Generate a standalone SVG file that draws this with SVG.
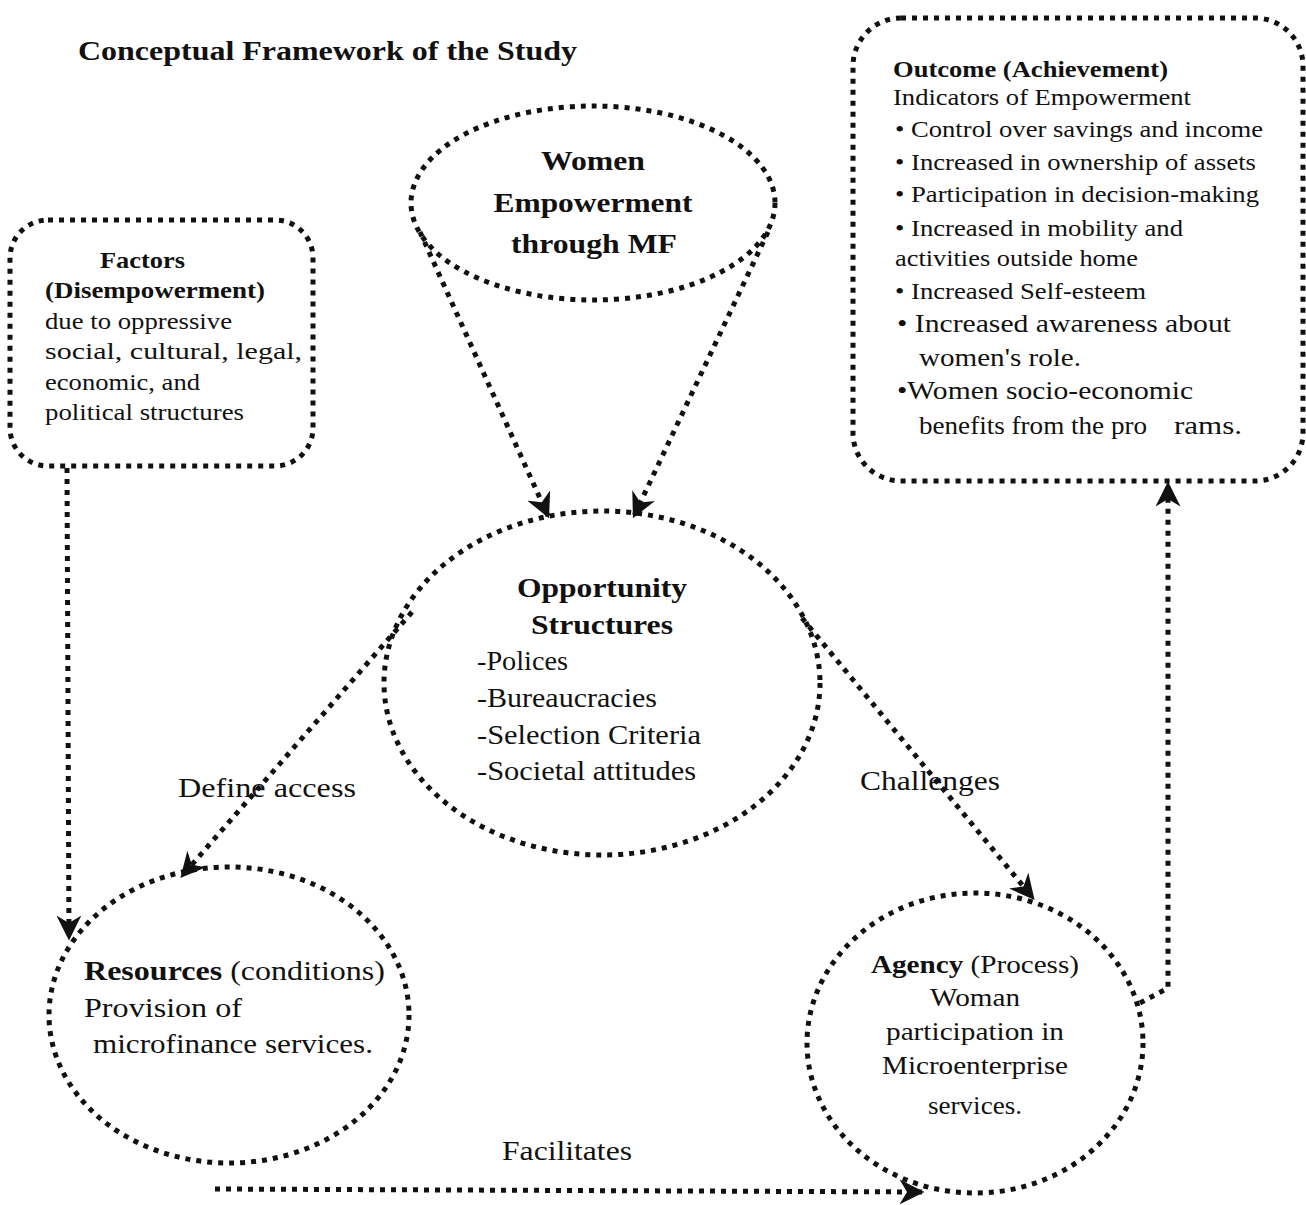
<svg xmlns="http://www.w3.org/2000/svg" width="1306" height="1205" viewBox="0 0 1306 1205">
<style>
text{font-family:"Liberation Serif","Times New Roman",serif;fill:#111}
.b{font-weight:bold}
.sh{fill:none;stroke:#111;stroke-width:5;stroke-dasharray:5 6}
.ln{fill:none;stroke:#111;stroke-width:5;stroke-dasharray:5 6}
.f28{font-size:28px}
.f24{font-size:24px}
.f23{font-size:23px}
.f26{font-size:26px}
.m{text-anchor:middle}
</style>
<defs>
<marker id="ah" viewBox="0 0 10 10" refX="9" refY="5" markerWidth="5" markerHeight="5" orient="auto" markerUnits="strokeWidth">
<path d="M0,0 L10,5 L0,10 L3,5 z" fill="#111"/>
</marker>
</defs>
<rect width="1306" height="1205" fill="#fff"/>
<text class="b f28" x="78" y="60" textLength="499" lengthAdjust="spacingAndGlyphs">Conceptual Framework of the Study</text>

<g id="women">
<ellipse class="sh" cx="593" cy="203" rx="182" ry="97" stroke-dasharray="6 4" stroke-width="4"/>
<text class="b f28 m" x="593" y="170" textLength="104" lengthAdjust="spacingAndGlyphs">Women</text>
<text class="b f28 m" x="593" y="212" textLength="199" lengthAdjust="spacingAndGlyphs">Empowerment</text>
<text class="b f28 m" x="594" y="253" textLength="166" lengthAdjust="spacingAndGlyphs">through MF</text>
</g>

<g id="factors">
<rect class="sh" x="10" y="220" width="303" height="246" rx="38"/>
<text class="b f24" x="100" y="268" textLength="85" lengthAdjust="spacingAndGlyphs">Factors</text>
<text class="b f24" x="45" y="298" textLength="220" lengthAdjust="spacingAndGlyphs">(Disempowerment)</text>
<text class="f24" x="45" y="329" textLength="187" lengthAdjust="spacingAndGlyphs">due to oppressive</text>
<text class="f24" x="45" y="359" textLength="257" lengthAdjust="spacingAndGlyphs">social, cultural, legal,</text>
<text class="f24" x="45" y="390" textLength="155" lengthAdjust="spacingAndGlyphs">economic, and</text>
<text class="f24" x="45" y="420" textLength="199" lengthAdjust="spacingAndGlyphs">political structures</text>
</g>

<g id="outcome">
<rect class="sh" x="853" y="18" width="450" height="463" rx="48"/>
<text class="b f23" x="893" y="77" textLength="275" lengthAdjust="spacingAndGlyphs">Outcome (Achievement)</text>
<text class="f23" x="893" y="105" textLength="298" lengthAdjust="spacingAndGlyphs">Indicators of Empowerment</text>
<text class="f23" x="895" y="137" textLength="368" lengthAdjust="spacingAndGlyphs">• Control over savings and income</text>
<text class="f23" x="895" y="170" textLength="361" lengthAdjust="spacingAndGlyphs">• Increased in ownership of assets</text>
<text class="f23" x="895" y="202" textLength="364" lengthAdjust="spacingAndGlyphs">• Participation in decision-making</text>
<text class="f23" x="895" y="236" textLength="288" lengthAdjust="spacingAndGlyphs">• Increased in mobility and</text>
<text class="f23" x="895" y="266" textLength="243" lengthAdjust="spacingAndGlyphs">activities outside home</text>
<text class="f23" x="895" y="299" textLength="251" lengthAdjust="spacingAndGlyphs">• Increased Self-esteem</text>
<text class="f26" x="897" y="332" textLength="334" lengthAdjust="spacingAndGlyphs">•  Increased awareness about</text>
<text class="f26" x="919" y="366" textLength="162" lengthAdjust="spacingAndGlyphs">women's role.</text>
<text class="f26" x="897" y="399" textLength="296" lengthAdjust="spacingAndGlyphs">•Women socio-economic</text>
<text class="f26" x="919" y="434" textLength="228" lengthAdjust="spacingAndGlyphs">benefits from the pro</text>
<text class="f26" x="1174" y="434" textLength="68" lengthAdjust="spacingAndGlyphs">rams.</text>
</g>

<g id="opportunity">
<ellipse class="sh" cx="602" cy="683" rx="218" ry="172"/>
<text class="b f28 m" x="602" y="597" textLength="170" lengthAdjust="spacingAndGlyphs">Opportunity</text>
<text class="b f28 m" x="602" y="634" textLength="142" lengthAdjust="spacingAndGlyphs">Structures</text>
<text class="f28" x="477" y="670" textLength="91" lengthAdjust="spacingAndGlyphs">-Polices</text>
<text class="f28" x="477" y="707" textLength="180" lengthAdjust="spacingAndGlyphs">-Bureaucracies</text>
<text class="f28" x="477" y="744" textLength="224" lengthAdjust="spacingAndGlyphs">-Selection Criteria</text>
<text class="f28" x="477" y="780" textLength="219" lengthAdjust="spacingAndGlyphs">-Societal attitudes</text>
</g>

<g id="resources">
<ellipse class="sh" cx="229" cy="1015" rx="180" ry="148"/>
<text class="f28" x="84" y="980" textLength="301" lengthAdjust="spacingAndGlyphs"><tspan class="b">Resources</tspan> (conditions)</text>
<text class="f28" x="84" y="1017" textLength="158" lengthAdjust="spacingAndGlyphs">Provision of</text>
<text class="f28" x="93" y="1053" textLength="280" lengthAdjust="spacingAndGlyphs">microfinance services.</text>
</g>

<g id="agency">
<ellipse class="sh" cx="975" cy="1043" rx="168" ry="150"/>
<text class="f26 m" x="975" y="973" textLength="208" lengthAdjust="spacingAndGlyphs"><tspan class="b">Agency</tspan> (Process)</text>
<text class="f26 m" x="975" y="1006" textLength="90" lengthAdjust="spacingAndGlyphs">Woman</text>
<text class="f26 m" x="975" y="1040" textLength="178" lengthAdjust="spacingAndGlyphs">participation in</text>
<text class="f26 m" x="975" y="1074" textLength="186" lengthAdjust="spacingAndGlyphs">Microenterprise</text>
<text class="f26 m" x="975" y="1114" textLength="94" lengthAdjust="spacingAndGlyphs">services.</text>
</g>

<g id="connectors">
<path class="ln" d="M420,232 L548,516" marker-end="url(#ah)"/>
<path class="ln" d="M768,232 L634,516" marker-end="url(#ah)"/>
<path class="ln" d="M412,612 L182,876" marker-end="url(#ah)"/>
<path class="ln" d="M802,618 L1033,898" marker-end="url(#ah)"/>
<path class="ln" d="M67,468 L69,938" marker-end="url(#ah)"/>
<path class="ln" d="M215,1189 L922,1192" marker-end="url(#ah)"/>
<path class="ln" d="M1140,1003 L1168,988 L1168,484" marker-end="url(#ah)"/>
<text class="f28" x="178" y="797" textLength="178" lengthAdjust="spacingAndGlyphs">Define access</text>
<text class="f28" x="860" y="790" textLength="140" lengthAdjust="spacingAndGlyphs">Challenges</text>
<text class="f28" x="502" y="1160" textLength="130" lengthAdjust="spacingAndGlyphs">Facilitates</text>
</g>
</svg>
